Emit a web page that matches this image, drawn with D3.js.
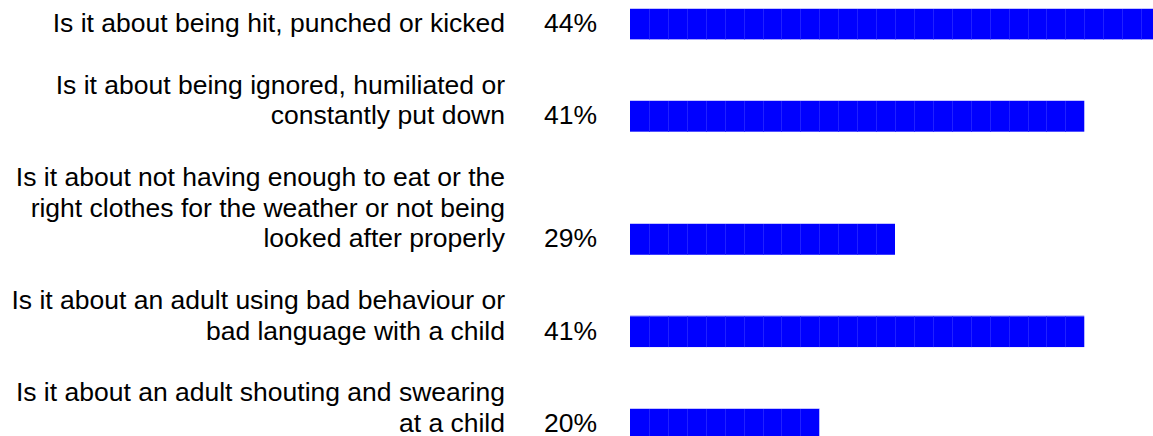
<!DOCTYPE html>
<html lang="en">
<head>
    <meta charset="UTF-8">
    <title>Is it about...</title>
    <script src="https://d3js.org/d3.v7.min.js"></script>
    <style>
        html, body { margin: 0; padding: 0; background: #fff; }
        svg { display: block; }
        text { font-family: "Liberation Sans", Arial, sans-serif; font-size: 26.5px; fill: #000; }
    </style>
</head>
<body>
    <div id="chart"></div>
    <script>
        // question labels, split into the lines as shown
        const questions = [
            ["Is it about being hit, punched or kicked"],
            ["Is it about being ignored, humiliated or", "constantly put down"],
            ["Is it about not having enough to eat or the", "right clothes for the weather or not being", "looked after properly"],
            ["Is it about an adult using bad behaviour or", "bad language with a child"],
            ["Is it about an adult shouting and swearing", "at a child"]
        ];
        const percentLabels = ["44%", "41%", "29%", "41%", "20%"];
        // bar length in segments (each bar is drawn as stacked blocks)
        const barUnits = [28, 24, 14, 24, 10];

        const width = 1153, height = 436;

        const svg = d3.select("#chart").append("svg")
            .attr("width", width).attr("height", height);

        // each row takes one slot per text line plus one empty slot as gap
        let slot = 0;
        const rows = questions.map((lines, i) => {
            const r = { lines, pct: percentLabels[i], units: barUnits[i], lastSlot: slot + lines.length - 1 };
            slot += lines.length + 1;
            return r;
        });
        const totalSlots = slot;

        const y = d3.scaleLinear().domain([0, totalSlots]).range([8.6, 8.6 + totalSlots * 30.77]);
        const x = d3.scaleLinear().domain([0, 28]).range([630, 1160]);

        const labelRight = 505, pctRight = 597;
        const mid = s => (y(s) + y(s + 1)) / 2;

        const row = svg.selectAll(".row").data(rows).enter().append("g").attr("class", "row");

        // question text, right aligned, last line beside the bar
        row.each(function(d) {
            const g = d3.select(this);
            d.lines.forEach((line, k) => {
                const s = d.lastSlot - (d.lines.length - 1) + k;
                g.append("text")
                    .attr("x", labelRight)
                    .attr("y", mid(s) + 8)
                    .attr("text-anchor", "end")
                    .text(line);
            });
        });

        row.append("text")
            .attr("x", pctRight)
            .attr("y", d => mid(d.lastSlot) + 8)
            .attr("text-anchor", "end")
            .text(d => d.pct);

        // bars
        row.append("rect")
            .attr("x", x(0))
            .attr("y", d => y(d.lastSlot))
            .attr("width", d => x(d.units) - x(0))
            .attr("height", d => y(d.lastSlot + 1) - y(d.lastSlot))
            .attr("fill", "#0000ff");

        // faint block separators and light top edge
        row.each(function(d) {
            const g = d3.select(this);
            const top = y(d.lastSlot), bot = y(d.lastSlot + 1);
            g.selectAll(".sep").data(d3.range(1, d.units)).enter().append("line")
                .attr("x1", u => Math.round(x(u)) + 0.5).attr("x2", u => Math.round(x(u)) + 0.5)
                .attr("y1", top).attr("y2", bot)
                .attr("stroke", "#2020ff").attr("stroke-width", 1);
            g.append("line")
                .attr("x1", x(0)).attr("x2", x(d.units))
                .attr("y1", Math.round(top) - 0.5).attr("y2", Math.round(top) - 0.5)
                .attr("stroke", "#c4c4ff").attr("stroke-width", 1);
        });
    </script>
</body>
</html>
